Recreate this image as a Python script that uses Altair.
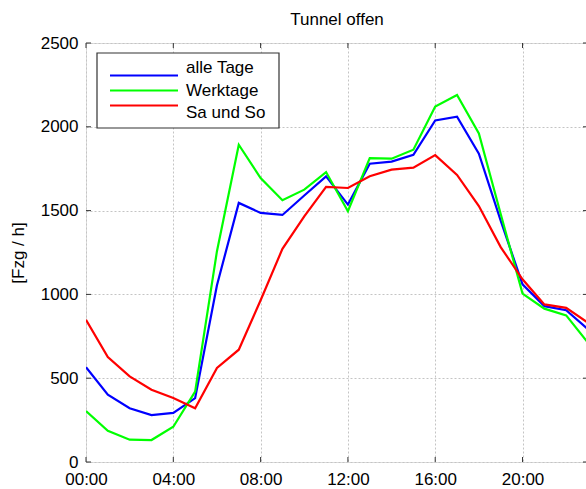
import altair as alt
import pandas as pd

# ---------------- data ----------------
hours = list(range(24))
alle_tage = [565, 402, 321, 280, 293, 381, 1055, 1546, 1486, 1474, 1590, 1704,
             1536, 1780, 1792, 1833, 2038, 2060, 1840, 1440, 1060, 930, 906, 792]
werktage = [304, 186, 133, 131, 210, 420, 1258, 1893, 1694, 1562, 1625, 1730,
            1496, 1813, 1810, 1863, 2121, 2190, 1960, 1480, 1005, 915, 875, 712]
sa_und_so = [849, 626, 511, 431, 382, 321, 561, 670, 965, 1272, 1466, 1641,
             1635, 1705, 1744, 1756, 1831, 1713, 1527, 1282, 1090, 940, 920, 831]

series_names = ["alle Tage", "Werktage", "Sa und So"]
series_colors = ["#0000ff", "#00ff00", "#ff0000"]

x_ticks = [0, 4, 8, 12, 16, 20]
x_tick_labels = ["00:00", "04:00", "08:00", "12:00", "16:00", "20:00"]
y_ticks = [0, 500, 1000, 1500, 2000, 2500]

title_text = "Tunnel offen"
y_title = "[Fzg / h]"

# ---------------- build ----------------
rows = []
for name, vals in zip(series_names, [alle_tage, werktage, sa_und_so]):
    for h, v in zip(hours, vals):
        rows.append({"h": h, "v": v, "s": name, "o": series_names.index(name)})
df = pd.DataFrame(rows)
leg_df = pd.DataFrame({"s": series_names})

W, H = 502, 419
FONT = "Liberation Sans"
FS = 17
TICK = 5
DARK = "#333333"
GRID = dict(grid=True, gridColor="#c4c4c4", gridDash=[2, 2], gridWidth=1,
            ticks=False, domain=False, labelFont=FONT, labelFontSize=FS,
            labelColor="black")

xscale = alt.Scale(domain=[0, 23], nice=False, zero=False)
yscale = alt.Scale(domain=[0, 2500], nice=False)
cscale = alt.Scale(domain=series_names, range=series_colors)

label_expr = "[" + ",".join("'%s'" % l for l in x_tick_labels) + "][indexof([" + \
    ",".join(str(t) for t in x_ticks) + "], datum.value)]"

lines = alt.Chart(df).mark_line(strokeWidth=2.2, clip=True).encode(
    x=alt.X("h:Q", scale=xscale,
            axis=alt.Axis(values=x_ticks, labelExpr=label_expr, title=None,
                          labelPadding=9, labelFlush=False, **GRID)),
    y=alt.Y("v:Q", scale=yscale,
            axis=alt.Axis(values=y_ticks, format="d", title=y_title, labelPadding=8,
                          titleFont=FONT, titleFontSize=FS, titleFontWeight="normal",
                          titleColor="black",
                          titleAngle=-90, titleX=-68, titleY=H / 2,
                          titleAlign="center", titleBaseline="middle", **GRID)),
    color=alt.Color("s:N", scale=cscale, legend=None),
    order=alt.Order("o:Q"),
)

yt = pd.DataFrame({"t": y_ticks})
xt = pd.DataFrame({"t": x_ticks})

tick_left = alt.Chart(yt).mark_rule(color=DARK).encode(
    y=alt.Y("t:Q", scale=yscale, axis=None), x=alt.value(0), x2=alt.value(TICK))
tick_right = alt.Chart(yt).mark_rule(color=DARK).encode(
    y=alt.Y("t:Q", scale=yscale, axis=None), x=alt.value(W - TICK), x2=alt.value(W))
tick_bottom = alt.Chart(xt).mark_rule(color=DARK).encode(
    x=alt.X("t:Q", scale=xscale), y=alt.value(H), y2=alt.value(H - TICK))
tick_top = alt.Chart(xt).mark_rule(color=DARK).encode(
    x=alt.X("t:Q", scale=xscale), y=alt.value(0), y2=alt.value(TICK))

# legend (drawn by hand so that the line samples can be long)
leg_y = alt.Y("s:N", scale=alt.Scale(domain=series_names, range=[25, 70], padding=0),
              axis=None)
leg_box = alt.Chart(pd.DataFrame({"k": [0]})).mark_rect(
    fill="white", stroke=DARK, strokeWidth=1.2).encode(
    x=alt.value(11), x2=alt.value(193), y=alt.value(10), y2=alt.value(85))
leg_lines = alt.Chart(leg_df).mark_rule(strokeWidth=2.2).encode(
    y=leg_y, x=alt.value(24), x2=alt.value(92),
    color=alt.Color("s:N", scale=cscale, legend=None))
leg_text = alt.Chart(leg_df).mark_text(
    align="left", baseline="middle", font=FONT, fontSize=FS, color="black").encode(
    y=leg_y, x=alt.value(100), text="s:N")

chart = alt.layer(lines, tick_left, tick_right, tick_bottom, tick_top,
                  leg_box, leg_lines, leg_text).resolve_scale(
    y="independent"
).properties(
    width=W, height=H,
    title=alt.TitleParams(title_text, fontSize=FS, fontWeight="normal", font=FONT,
                          color="black", anchor="middle", offset=5),
    autosize=alt.AutoSizeParams(type="none"),
    padding={"left": 86, "top": 43, "right": -2, "bottom": 27},
).configure_view(
    stroke=DARK, strokeWidth=1.2
).configure(background="white")

chart.save("out.html", embed_options={"renderer": "svg", "actions": False})
